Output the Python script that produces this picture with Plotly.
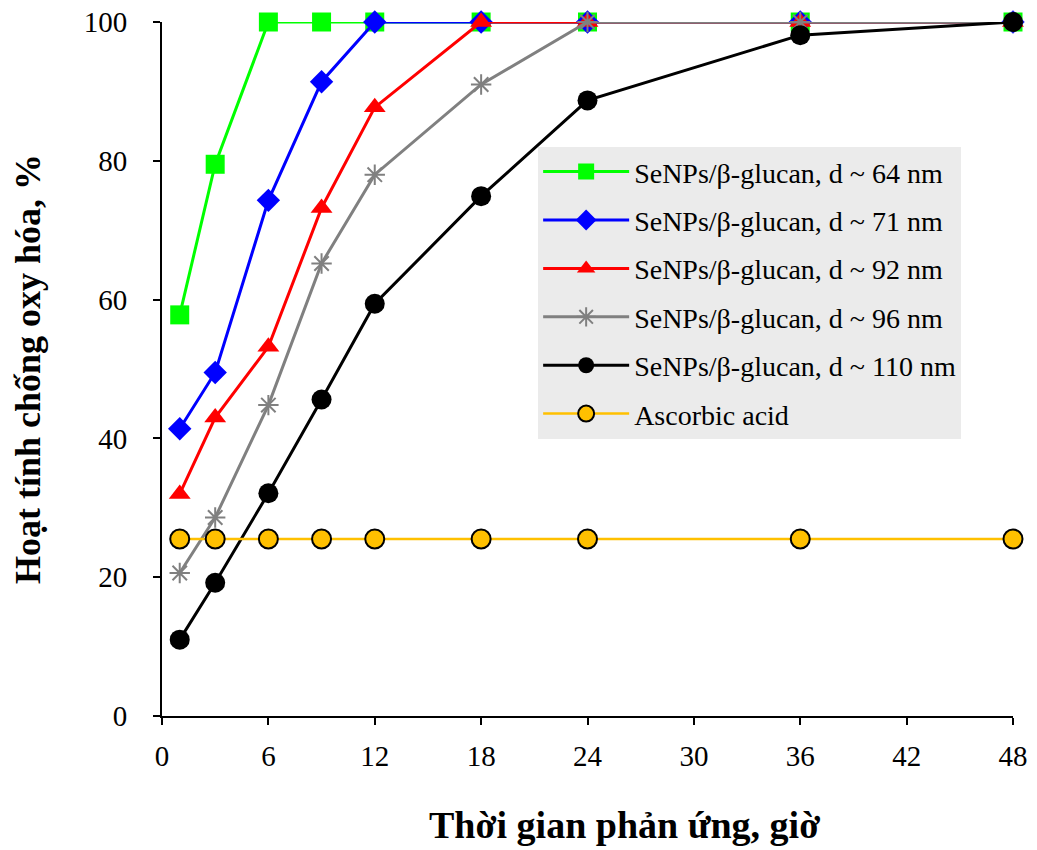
import plotly.graph_objects as go

hours = [1, 3, 6, 9, 12, 18, 24, 36, 48]

names = [
    "SeNPs/β-glucan, d ~ 64 nm",
    "SeNPs/β-glucan, d ~ 71 nm",
    "SeNPs/β-glucan, d ~ 92 nm",
    "SeNPs/β-glucan, d ~ 96 nm",
    "SeNPs/β-glucan, d ~ 110 nm",
    "Ascorbic acid",
]

d64 = [57.8, 79.5, 100, 100, 100, 100, 100, 100, 100]
d71 = [41.4, 49.5, 74.3, 91.4, 100, 100, 100, 100, 100]
d92 = [32.0, 43.0, 53.2, 73.2, 87.7, 100, 100, 100, 100]
d96 = [20.6, 28.6, 44.8, 65.2, 78.0, 91.0, 100, 100, 100]
d110 = [11.0, 19.2, 32.1, 45.6, 59.4, 74.9, 88.7, 98.1, 100]
ascorbic = [25.5, 25.5, 25.5, 25.5, 25.5, 25.5, 25.5, 25.5, 25.5]

x_ticks = [0, 6, 12, 18, 24, 30, 36, 42, 48]
y_ticks = [0, 20, 40, 60, 80, 100]

x_title = "Thời gian phản ứng, giờ"
y_title = "Hoạt tính chống oxy hóa, %"

series = [d64, d71, d92, d96, d110, ascorbic]
styles = [
    dict(color="#00ff00", symbol="square", size=19, lw=3, mline=dict(width=0)),
    dict(color="#0000ff", symbol="diamond", size=18, lw=3, mline=dict(width=0)),
    dict(color="#ff0000", symbol="triangle-up", size=19, lw=3, mline=dict(width=0)),
    dict(color="#808080", symbol="asterisk-open", size=17, lw=3, mline=dict(width=2, color="#808080")),
    dict(color="#000000", symbol="circle", size=20, lw=3, mline=dict(width=0)),
    dict(color="#ffc000", symbol="circle", size=19, lw=2.5, mline=dict(width=2, color="#000000")),
]

font_family = "Liberation Serif, Times New Roman, serif"

fig = go.Figure()
for i, (name, vals, st) in enumerate(zip(names, series, styles)):
    fig.add_trace(go.Scatter(
        x=hours, y=vals, name=name, mode="lines+markers",
        line=dict(color=st["color"], width=st["lw"]),
        marker=dict(symbol=st["symbol"], size=st["size"], color=st["color"], line=st["mline"]),
        cliponaxis=False, legendgroup=f"g{i}",
    ))

fig.update_layout(
    width=1037, height=850,
    margin=dict(l=162, r=24, t=22, b=134),
    paper_bgcolor="white", plot_bgcolor="white",
    font=dict(family=font_family, size=28, color="black"),
    showlegend=True,
    legend=dict(
        x=0.442, y=0.82, xanchor="left", yanchor="top",
        bgcolor="#ebebeb", borderwidth=0,
        font=dict(family=font_family, size=28, color="black"),
        tracegroupgap=9, itemwidth=86,
    ),
    annotations=[dict(
        text=f"<b>{x_title}</b>", xref="paper", yref="paper",
        x=0.544, y=-0.19, xanchor="center", yanchor="bottom", showarrow=False,
        font=dict(family=font_family, size=38, color="black"),
    )],
)

fig.update_xaxes(
    range=[0, 48], tickvals=x_ticks, ticktext=[str(v) for v in x_ticks],
    showline=True, linecolor="black", linewidth=2,
    ticks="outside", ticklen=7, tickwidth=2, tickcolor="black",
    showgrid=False, zeroline=False, ticklabelstandoff=6,
    automargin=False, ticklabeloverflow="allow",
    tickfont=dict(family=font_family, size=29),
)
fig.update_yaxes(
    range=[0, 100], tickvals=y_ticks, ticktext=[str(v) for v in y_ticks],
    showline=True, linecolor="black", linewidth=2,
    ticks="outside", ticklen=7, tickwidth=2, tickcolor="black",
    showgrid=False, zeroline=False, ticklabelstandoff=20,
    automargin=False, ticklabeloverflow="allow",
    tickfont=dict(family=font_family, size=29),
    title=dict(text=f"<b>{y_title}</b>", font=dict(family=font_family, size=36), standoff=32),
)

fig.write_html(
    "out.html",
    config={"displayModeBar": False},
    post_script="document.body.style.margin='0px';document.body.style.overflow='hidden';",
)
